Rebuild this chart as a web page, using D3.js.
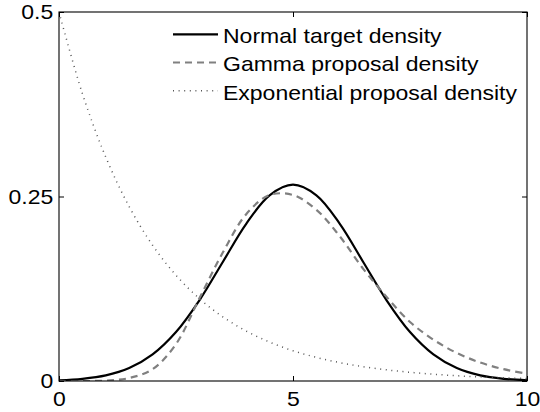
<!DOCTYPE html>
<html>
<head>
<meta charset="utf-8">
<script src="https://cdn.jsdelivr.net/npm/d3@7/dist/d3.min.js"></script>
<style>
  html, body { margin: 0; padding: 0; background: #fff; }
  svg { display: block; }
  text { font-family: "Liberation Sans", Arial, Helvetica, sans-serif; fill: #000; }
</style>
</head>
<body>
<svg id="chart" width="540" height="412"></svg>
<script>
// Sample points on the x axis (every 0.5 from 0 to 10)
const xs = [0, 0.5, 1, 1.5, 2, 2.5, 3, 3.5, 4, 4.5, 5, 5.5, 6, 6.5, 7, 7.5, 8, 8.5, 9, 9.5, 10];

// Density values at each sample point
const normalTarget = [0.0010, 0.0030, 0.0076, 0.0175, 0.0360, 0.0663, 0.1093, 0.1613, 0.2130, 0.2516, 0.2660,
                      0.2516, 0.2130, 0.1613, 0.1093, 0.0663, 0.0360, 0.0175, 0.0076, 0.0030, 0.0010];
const gammaProposal = [0, 0, 0.0005, 0.004, 0.016, 0.050, 0.112, 0.174, 0.226, 0.252, 0.252,
                       0.232, 0.196, 0.152, 0.114, 0.080, 0.056, 0.038, 0.025, 0.016, 0.010];
const expProposal = [0.5, 0.3894, 0.3033, 0.2362, 0.1839, 0.1433, 0.1116, 0.0869, 0.0677, 0.0527, 0.0410,
                     0.0320, 0.0249, 0.0194, 0.0151, 0.0118, 0.0092, 0.0071, 0.0056, 0.0043, 0.0034];

const seriesNames = ["Normal target density", "Gamma proposal density", "Exponential proposal density"];
const xTicks = [0, 5, 10];
const yTicks = [0, 0.25, 0.5];
const yTickLabels = ["0", "0.25", "0.5"];

const svg = d3.select("#chart");
const plotLeft = 59, plotRight = 527, plotTop = 12, plotBottom = 381;
const sx = 1.15; // horizontal text stretch

const x = d3.scaleLinear().domain([0, 10]).range([plotLeft, plotRight]);
const y = d3.scaleLinear().domain([0, 0.5]).range([plotBottom, plotTop]);

svg.append("rect").attr("width", 540).attr("height", 412).attr("fill", "#fff");

svg.append("defs").append("clipPath").attr("id", "plotclip")
  .append("rect").attr("x", plotLeft).attr("y", plotTop - 1)
  .attr("width", plotRight - plotLeft).attr("height", plotBottom - plotTop + 1);

// Curves
const styles = [
  { stroke: "#000", width: 2.2, dash: null },
  { stroke: "#808080", width: 2.2, dash: "7,5" },
  { stroke: "#555", width: 1.5, dash: "1,4.6" }
];
const seriesData = [normalTarget, gammaProposal, expProposal];

const line = d3.line()
  .x((d, i) => x(xs[i]))
  .y(d => y(d))
  .curve(d3.curveCatmullRom.alpha(0.5));

const plot = svg.append("g").attr("clip-path", "url(#plotclip)");
seriesData.forEach((vals, k) => {
  plot.append("path")
    .datum(vals)
    .attr("d", line)
    .attr("fill", "none")
    .attr("stroke", styles[k].stroke)
    .attr("stroke-width", styles[k].width)
    .attr("stroke-dasharray", styles[k].dash)
    .attr("stroke-linejoin", "round");
});

// Axes with inward ticks on all four sides
const tickLen = 5;
function styleAxis(g) {
  g.select(".domain").remove();
  g.selectAll("line").attr("stroke", "#000").attr("stroke-width", 1);
  g.selectAll("text")
    .attr("font-size", 20)
    .attr("font-family", "'Liberation Sans', Arial, sans-serif")
    .attr("fill", "#000")
    .attr("transform", `scale(${sx},1)`);
}

svg.append("g").attr("transform", `translate(0,${plotBottom})`)
  .call(d3.axisBottom(x).tickValues(xTicks).tickFormat(d3.format("d"))
    .tickSize(-tickLen).tickPadding(10.7))
  .call(styleAxis);

svg.append("g").attr("transform", `translate(0,${plotTop})`)
  .call(d3.axisTop(x).tickValues(xTicks).tickFormat("").tickSize(-tickLen))
  .call(styleAxis);

svg.append("g").attr("transform", `translate(${plotLeft},0)`)
  .call(d3.axisLeft(y).tickValues(yTicks).tickFormat((d, i) => yTickLabels[i])
    .tickSize(-tickLen).tickPadding(5))
  .call(styleAxis)
  .selectAll("text").attr("dy", "0.34em");

svg.append("g").attr("transform", `translate(${plotRight},0)`)
  .call(d3.axisRight(y).tickValues(yTicks).tickFormat("").tickSize(-tickLen))
  .call(styleAxis);

// Box
svg.append("rect")
  .attr("x", plotLeft).attr("y", plotTop)
  .attr("width", plotRight - plotLeft).attr("height", plotBottom - plotTop)
  .attr("fill", "none").attr("stroke", "#000").attr("stroke-width", 1.1);

// Legend
const legend = svg.append("g");
const legX0 = 173, legX1 = 218, legTextX = 223, legY0 = 34.3, legDy = 28.2;
seriesNames.forEach((name, k) => {
  const ly = legY0 + k * legDy;
  legend.append("line")
    .attr("x1", legX0).attr("x2", legX1).attr("y1", ly).attr("y2", ly)
    .attr("stroke", styles[k].stroke)
    .attr("stroke-width", styles[k].width)
    .attr("stroke-dasharray", styles[k].dash);
  legend.append("text")
    .attr("transform", `translate(${legTextX},${ly + 8.8}) scale(${sx},1)`)
    .attr("font-size", 20)
    .text(name);
});
</script>
</body>
</html>
